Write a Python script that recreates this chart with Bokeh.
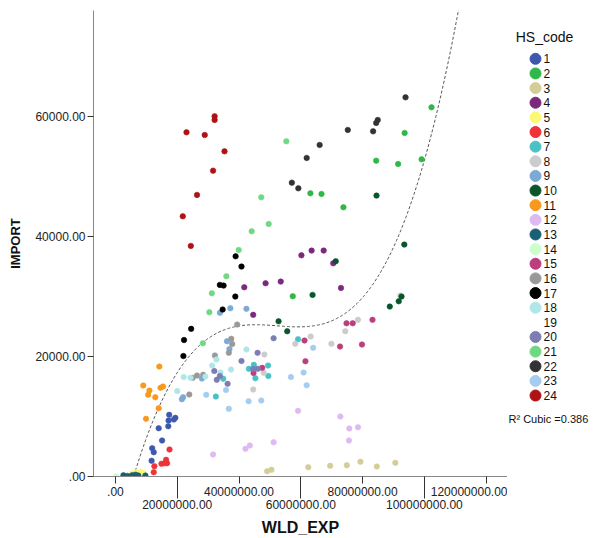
import numpy as np
from bokeh.plotting import figure
from bokeh.models import Range1d, FixedTicker, LinearAxis, CustomJSTickFormatter
from bokeh.layouts import row
from bokeh.embed import file_html
from bokeh.resources import INLINE
from bokeh.core.properties import value

# ---------------- data (WLD_EXP, IMPORT) per HS_code ----------------
hs1_x = [17.4e6, 17.2e6, 17.1e6, 19.4e6, 18.9e6, 14.0e6, 15.1e6, 11.9e6, 12.4e6, 11.7e6]
hs1_y = [10283, 9333, 8383, 9783, 9500, 8050, 6000, 4717, 4050, 2617]
hs2_x = [102.3e6, 93.6e6, 84.4e6, 91.5e6, 99.1e6, 63.1e6, 66.7e6, 73.8e6, 57.4e6]
hs2_y = [61550, 57283, 52667, 52117, 52883, 47217, 47117, 44883, 30050]
hs3_x = [49.1e6, 50.5e6, 62.4e6, 69.5e6, 74.9e6, 79.3e6, 84.6e6, 90.6e6]
hs3_y = [883, 1117, 1550, 1783, 1883, 2450, 1667, 2283]
hs4_x = [60.2e6, 63.5e6, 67.4e6, 70.5e6, 53.5e6, 48.6e6, 41.7e6, 73.0e6, 44.6e6]
hs4_y = [36883, 37667, 37667, 35550, 32500, 32217, 31550, 31450, 26950]
hs5_x = [5.5e6, 6.8e6, 8.1e6, 7.4e6, 6.1e6, 9.1e6]
hs5_y = [550, 717, 783, 500, 450, 550]
hs6_x = [17.5e6, 16.4e6, 16.7e6, 15.9e6, 14.9e6, 12.6e6, 12.4e6]
hs6_y = [4500, 2783, 2217, 2217, 2117, 1717, 717]
hs7_x = [44.8e6, 49.4e6, 43.2e6, 34.9e6, 45.3e6, 49.5e6, 32.5e6, 59.1e6]
hs7_y = [18617, 18500, 17950, 16300, 16383, 16750, 13333, 22883]
hs8_x = [78.5e6, 74.4e6, 63.2e6, 58.2e6, 69.9e6, 92.2e6, 48.2e6, 44.6e6, 48.0e6]
hs8_y = [26117, 24217, 23333, 22117, 22117, 30167, 20333, 14500, 17283]
hs9_x = [33.8e6, 37.2e6, 42.4e6, 36.1e6, 36.9e6, 28.0e6, 21.9e6, 21.5e6]
hs9_y = [27283, 28050, 27950, 22550, 21250, 16333, 13217, 12883]
hs10_x = [71.3e6, 63.8e6, 84.5e6, 93.5e6, 92.6e6, 91.7e6, 88.8e6, 55.6e6, 52.8e6]
hs10_y = [35883, 30283, 46833, 38667, 30000, 29217, 28333, 24217, 25883]
hs11_x = [14.2e6, 9.0e6, 11.0e6, 10.6e6, 14.6e6, 15.4e6, 12.9e6, 14.0e6, 9.9e6]
hs11_y = [18333, 15167, 14333, 13617, 14783, 15000, 13217, 11383, 9617]
hs12_x = [31.6e6, 42.1e6, 43.5e6, 51.2e6, 59.1e6, 72.8e6, 75.7e6, 78.5e6, 75.6e6]
hs12_y = [3667, 4617, 5167, 5717, 10950, 10000, 8000, 8217, 6000]
hs13_x = [2.6e6, 3.9e6, 5.4e6, 6.5e6, 7.4e6, 9.7e6]
hs13_y = [200, 100, 200, 300, 150, 150]
hs14_x = [0.2e6]
hs14_y = [50]
hs15_x = [74.8e6, 76.8e6, 83.2e6, 61.2e6, 72.7e6, 79.8e6, 61.5e6, 47.5e6, 44.7e6]
hs15_y = [25550, 25550, 26117, 22667, 21667, 22000, 19217, 18117, 17250]
hs16_x = [39.4e6, 37.5e6, 37.8e6, 36.7e6, 32.2e6, 25.0e6, 26.4e6, 28.4e6, 23.9e6]
hs16_y = [25333, 22950, 22083, 20617, 20167, 16450, 16833, 16950, 13667]
hs17_x = [38.9e6, 40.8e6, 33.8e6, 35.0e6, 38.8e6, 34.7e6, 24.5e6, 22.2e6, 22.0e6]
hs17_y = [36717, 35000, 31950, 31833, 30000, 27833, 24617, 22750, 20083]
hs18_x = [42.4e6, 32.7e6, 31.3e6, 37.4e6, 34.0e6, 22.1e6, 29.1e6, 24.3e6, 20.0e6]
hs18_y = [21167, 19500, 18500, 17833, 17333, 16583, 16667, 16450, 14250]
hs19_x = []
hs19_y = []
hs20_x = [51.2e6, 46.0e6, 40.8e6, 44.6e6, 46.1e6, 32.0e6, 33.8e6, 32.8e6, 36.3e6]
hs20_y = [23050, 20617, 19250, 17917, 17950, 17583, 16750, 16117, 15450]
hs21_x = [55.3e6, 47.2e6, 49.6e6, 44.1e6, 39.9e6, 35.9e6, 31.2e6, 30.4e6, 28.3e6]
hs21_y = [55883, 46550, 42117, 40883, 37783, 33383, 30550, 27383, 22217]
hs22_x = [93.9e6, 84.9e6, 84.4e6, 75.2e6, 83.4e6, 66.1e6, 61.9e6, 57.1e6, 59.2e6]
hs22_y = [63217, 59450, 58950, 57783, 57550, 55283, 53117, 49000, 48050]
hs23_x = [56.8e6, 60.9e6, 61.9e6, 64.0e6, 43.1e6, 47.2e6, 36.7e6, 29.4e6, 35.8e6]
hs23_y = [16583, 17333, 15217, 21450, 12550, 12667, 11283, 13617, 14417]
hs24_x = [32.1e6, 32.1e6, 23.0e6, 28.9e6, 35.3e6, 31.6e6, 26.4e6, 21.8e6, 24.4e6]
hs24_y = [60050, 59450, 57383, 56950, 54217, 51000, 46950, 43383, 38450]

codes = ["1", "2", "3", "4", "5", "6", "7", "8", "9", "10", "11", "12",
         "13", "14", "15", "16", "17", "18", "19", "20", "21", "22", "23", "24"]
colors = ["#3E58AC", "#2EB848", "#D3CE97", "#7C287D", "#FBF873", "#EF3338",
          "#48C2C5", "#CCCCCC", "#7AAAD5", "#0A562C", "#F8981D", "#DDBAF1",
          "#1A5F76", "#CCFFCC", "#BB3F7F", "#999999", "#000000", "#B0E6E9",
          "#FFFFFF", "#7D7DB3", "#70D882", "#333333", "#A5CDEF", "#AE1215"]
series_x = [hs1_x, hs2_x, hs3_x, hs4_x, hs5_x, hs6_x, hs7_x, hs8_x, hs9_x, hs10_x,
            hs11_x, hs12_x, hs13_x, hs14_x, hs15_x, hs16_x, hs17_x, hs18_x, hs19_x,
            hs20_x, hs21_x, hs22_x, hs23_x, hs24_x]
series_y = [hs1_y, hs2_y, hs3_y, hs4_y, hs5_y, hs6_y, hs7_y, hs8_y, hs9_y, hs10_y,
            hs11_y, hs12_y, hs13_y, hs14_y, hs15_y, hs16_y, hs17_y, hs18_y, hs19_y,
            hs20_y, hs21_y, hs22_y, hs23_y, hs24_y]

x_ticks_upper = [0, 40e6, 80e6, 120e6]
x_ticks_lower = [20e6, 60e6, 100e6]
y_ticks = [0, 20000, 40000, 60000]
r2_text = "R\u00b2 Cubic =0.386"

FONT = "Liberation Sans"

# ---------------- main plot ----------------
p = figure(frame_width=414, frame_height=466,
           x_range=Range1d(-7.1e6, 126.9e6), y_range=Range1d(0, 77700),
           output_backend="svg", toolbar_location=None,
           min_border_left=93, min_border_right=0, min_border_top=10, min_border_bottom=0)
p.grid.visible = False
p.outline_line_color = None
p.background_fill_color = "white"

fmt = CustomJSTickFormatter(code="return tick === 0 ? '.00' : tick.toFixed(2);")

# upper row of x labels (short ticks)
xa = p.xaxis[0]
xa.ticker = FixedTicker(ticks=x_ticks_upper, minor_ticks=[])
xa.formatter = fmt
xa.major_tick_out = 7
xa.major_tick_in = 0
xa.minor_tick_line_color = None
xa.major_label_standoff = 3
xa.axis_line_color = "#888888"
xa.major_tick_line_color = "#333333"
xa.major_label_text_font = FONT
xa.major_label_text_font_size = "12px"
xa.major_label_text_color = "#222222"

# lower row of x labels (long ticks reaching up to the axis line)
xb = LinearAxis(ticker=FixedTicker(ticks=x_ticks_lower, minor_ticks=[]), formatter=fmt)
xb.axis_line_color = None
xb.major_tick_line_color = "#333333"
xb.minor_tick_line_color = None
xb.major_tick_out = 0
xb.major_tick_in = 22
xb.major_label_standoff = 1
xb.major_label_text_font = FONT
xb.major_label_text_font_size = "12px"
xb.major_label_text_color = "#222222"
xb.axis_label = "WLD_EXP"
xb.axis_label_standoff = 7
xb.axis_label_text_font = FONT
xb.axis_label_text_font_style = "bold"
xb.axis_label_text_font_size = "16px"
xb.axis_label_text_color = "#111111"
p.add_layout(xb, "below")

ya = p.yaxis[0]
ya.ticker = FixedTicker(ticks=y_ticks, minor_ticks=[])
ya.formatter = CustomJSTickFormatter(code="return tick === 0 ? '.00' : tick.toFixed(2);")
ya.major_tick_out = 6
ya.major_tick_in = 0
ya.minor_tick_line_color = None
ya.major_label_standoff = 2
ya.axis_line_color = "#888888"
ya.major_tick_line_color = "#333333"
ya.major_label_text_font = FONT
ya.major_label_text_font_size = "12px"
ya.major_label_text_color = "#222222"
ya.axis_label = "IMPORT"
ya.axis_label_standoff = 9
ya.axis_label_text_font = FONT
ya.axis_label_text_font_style = "bold"
ya.axis_label_text_font_size = "13px"
ya.axis_label_text_color = "#111111"

# cubic fit through all points
all_x = np.array([v for s in series_x for v in s])
all_y = np.array([v for s in series_y for v in s])
coef = np.polyfit(all_x / 1e6, all_y, 3)
fx = np.linspace(-7.1e6, 126.9e6, 400)
fy = np.polyval(coef, fx / 1e6)
p.line(fx, fy, line_color="#555555", line_width=1, line_dash="3 2")

for sx, sy, c in zip(series_x, series_y, colors):
    if len(sx) == 0:
        continue
    p.scatter(sx, sy, size=5.5, fill_color=c, line_color=c, line_alpha=0.6)

# ---------------- legend panel ----------------
LW, LH = 86, 536
lg = figure(frame_width=LW, frame_height=LH, x_range=Range1d(0, LW), y_range=Range1d(LH, 0),
            output_backend="svg", toolbar_location=None,
            min_border_left=0, min_border_right=0, min_border_top=0, min_border_bottom=0)
lg.axis.visible = False
lg.grid.visible = False
lg.outline_line_color = None

ly = [48.3 + i * 14.64 for i in range(len(codes))]
lg.scatter([28] * len(codes), ly, size=11, fill_color=colors,
           line_color=[None if c == "#FFFFFF" else c for c in colors])
lg.text([36] * len(codes), ly, text=codes, text_font=value(FONT), text_font_size="12px",
        text_baseline="middle", text_align="left", text_color="#111111")
lg.text([37], [26], text=["HS_code"], text_font=value(FONT), text_font_size="14px",
        text_baseline="middle", text_align="center", text_color="#111111")
lg.text([1], [408], text=[r2_text], text_font=value(FONT), text_font_size="11px",
        text_baseline="middle", text_align="left", text_color="#111111")

layout = row(p, lg)
open("out.html", "w").write(file_html(layout, INLINE))
